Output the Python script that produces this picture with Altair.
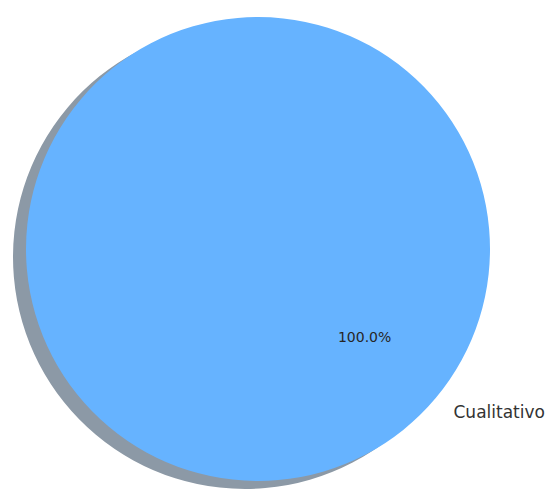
import math
import altair as alt
import pandas as pd

# Data
categories = ["Cualitativo"]
values = [100]
pct_labels = ["100.0%"]

df = pd.DataFrame({"category": categories, "value": values, "pct": pct_labels})

# Start angle chosen so the slice's middle lies toward lower-right (as in reference)
start = -0.8727
theta_scale = alt.Scale(range=[start, start + 2 * math.pi])

base = alt.Chart(df).encode(
    theta=alt.Theta("value:Q", stack=True, scale=theta_scale)
)

R = 232
cx, cy = 250, 241

shadow = base.mark_arc(radius=R, color="#8c99a6").encode(
    x=alt.value(cx - 13), y=alt.value(cy + 8)
)
pie = base.mark_arc(radius=R, color="#66b3ff").encode(
    x=alt.value(cx), y=alt.value(cy)
)
pct = base.mark_text(
    radius=0.6 * R, font="DejaVu Sans", fontSize=14, color="#262626",
    align="center", baseline="middle"
).encode(text="pct:N", x=alt.value(cx), y=alt.value(cy))
label = base.mark_text(
    radius=1.1 * R, font="DejaVu Sans", fontSize=17, color="#333333",
    align="left", baseline="middle"
).encode(text="category:N", x=alt.value(cx), y=alt.value(cy))

chart = alt.layer(shadow, pie, pct, label).properties(
    width=537, height=483, padding=0,
    autosize=alt.AutoSizeParams(type="none"),
    background="white",
).configure_view(stroke=None)

chart.save("out.html", embed_options={"renderer": "svg", "actions": False})
